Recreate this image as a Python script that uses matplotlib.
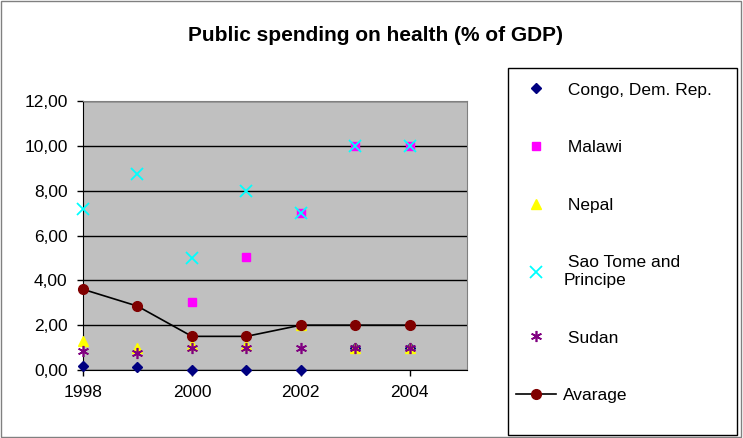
import numpy as np
import matplotlib
matplotlib.use("Agg")
import matplotlib.pyplot as plt
from matplotlib.patches import Rectangle

plt.rcParams['font.family'] = ['Liberation Sans', 'DejaVu Sans']

# data
years = [1998, 1999, 2000, 2001, 2002, 2003, 2004]
congo = [0.18, 0.15, 0.0, 0.0, 0.0, 1.0, 1.0]
malawi = [np.nan, np.nan, 3.05, 5.05, 7.0, 10.0, 10.0]
nepal = [1.3, 1.0, 1.1, 1.1, 2.0, 1.0, 1.0]
sao_tome = [7.2, 8.75, 5.0, 8.0, 7.0, 10.0, 10.0]
sudan = [0.85, 0.75, 1.0, 1.0, 1.0, 1.0, 1.0]
average = [3.6, 2.85, 1.5, 1.5, 2.0, 2.0, 2.0]

yticks = [0, 2, 4, 6, 8, 10, 12]
xticks = [1998, 2000, 2002, 2004]

fig = plt.figure(figsize=(7.43, 4.38), dpi=100)
# outer chart border
fig.patches.append(Rectangle((0.002, 0.003), 0.995, 0.994, transform=fig.transFigure,
                             fill=False, edgecolor='#808080', linewidth=1))
# legend box
fig.patches.append(Rectangle((508 / 743, 1 - 435 / 438), 229 / 743, 367 / 438,
                             transform=fig.transFigure, fill=False, edgecolor='black', linewidth=1))

ax = fig.add_axes([0.1117, 0.1553, 0.5168, 0.614])
ax.set_facecolor('#C0C0C0')

ax.plot(years, congo, linestyle='none', marker='D', color='#000080', markersize=5, label=' Congo, Dem. Rep.', zorder=3)
ax.plot(years, malawi, linestyle='none', marker='s', color='#FF00FF', markersize=6, label=' Malawi', zorder=3)
ax.plot(years, nepal, linestyle='none', marker='^', color='#FFFF00', markersize=7, label=' Nepal', zorder=3)
ax.plot(years, sao_tome, linestyle='none', marker='x', color='#00FFFF', markersize=8, mew=1.3,
        label=' Sao Tome and\nPrincipe', zorder=4)
ax.plot(years, sudan, linestyle='none', marker=(6, 2, 0), color='#800080', markersize=8, mew=1.2,
        label=' Sudan', zorder=4)
ax.plot(years, average, '-', color='black', linewidth=1.2, marker='o', markerfacecolor='#800000',
        markeredgecolor='#800000', markersize=7, label='Avarage', zorder=5)

ax.set_xlim(1998, 2005.05)
ax.set_ylim(0, 12)
ax.set_yticks(yticks)
ax.set_yticklabels([f"{v:.2f}".replace('.', ',') for v in yticks], fontsize=12.5)
ax.set_xticks(xticks)
ax.set_xticklabels([str(x) for x in xticks], fontsize=12.5)
ax.grid(axis='y', color='black', linewidth=1)
ax.set_axisbelow(True)
for s in ['top', 'right']:
    ax.spines[s].set_color('#808080')
for s in ['left', 'bottom']:
    ax.spines[s].set_color('black')
ax.tick_params(direction='out', length=4, width=1, pad=7)
for line in ax.lines:
    line.set_clip_on(False)

fig.text(0.505, 0.918, 'Public spending on health (% of GDP)', ha='center', va='center',
         fontsize=15, fontweight='bold')

leg = fig.legend(loc='upper left', bbox_to_anchor=(499 / 743, 1 - 65 / 438),
                 fontsize=12.5, frameon=False, labelspacing=2.45,
                 handlelength=2.3, handletextpad=0.4, borderpad=0.5, numpoints=1)

fig.savefig('out.png', dpi=100)
